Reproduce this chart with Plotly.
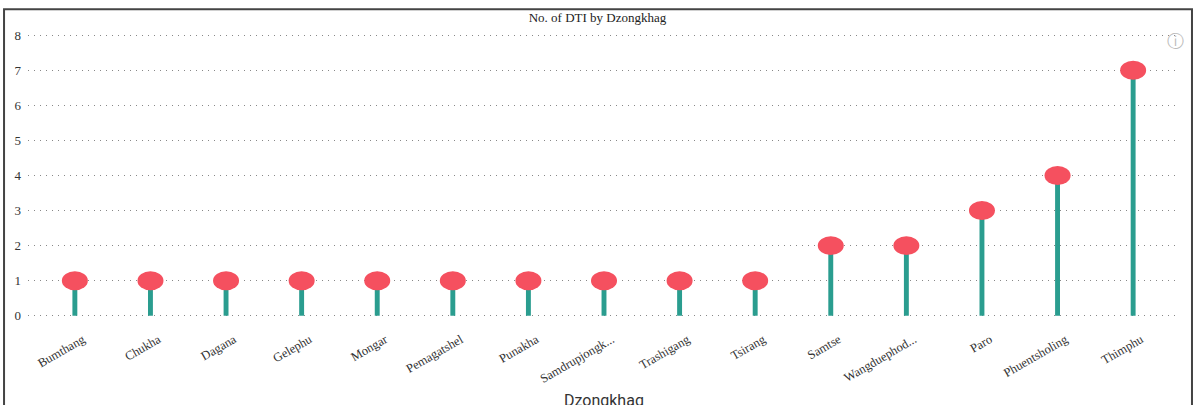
import plotly.graph_objects as go

dzongkhags = ["Bumthang", "Chukha", "Dagana", "Gelephu", "Mongar", "Pemagatshel",
              "Punakha", "Samdrupjongk...", "Trashigang", "Tsirang", "Samtse",
              "Wangduephod...", "Paro", "Phuentsholing", "Thimphu"]
dti_counts = [1, 1, 1, 1, 1, 1, 1, 1, 1, 1, 2, 2, 3, 4, 7]
x_title = "Dzongkhag"

STEM = "#2a9d8f"
HEAD = "#f5505f"
SERIF = "Liberation Serif, Times New Roman, serif"

fig = go.Figure()
fig.add_trace(go.Bar(
    x=list(range(len(dzongkhags))), y=dti_counts, width=0.065,
    marker=dict(color=STEM, line=dict(width=0)), hoverinfo="skip",
))

# ellipse heads derived from data values
hx = 0.172
hy = 0.27
for i, v in enumerate(dti_counts):
    fig.add_shape(type="circle", xref="x", yref="y",
                  x0=i - hx, x1=i + hx, y0=v - hy, y1=v + hy,
                  fillcolor=HEAD, line=dict(width=0), layer="above")

# outer frame
fig.add_shape(type="rect", xref="paper", yref="paper",
              x0=-0.0208, x1=1.0104, y0=-0.3, y1=1.0714,
              line=dict(color="#444", width=2), fillcolor="rgba(0,0,0,0)")

fig.add_annotation(text="ⓘ", xref="paper", yref="paper", x=0.996, y=0.965,
                   xanchor="center", yanchor="middle",
                   showarrow=False, font=dict(size=17, color="#bbbbbb"))

# x-axis title
fig.add_annotation(text=x_title, xref="paper", yref="paper", x=0.5, y=-0.272,
                   xanchor="center", yanchor="middle", showarrow=False,
                   font=dict(family="Roboto, Arial, sans-serif", size=16, color="#333"))

fig.update_layout(
    width=1195, height=405,
    margin=dict(l=28, r=15, t=30, b=84, autoexpand=False),
    paper_bgcolor="white", plot_bgcolor="white",
    showlegend=False,
    title=dict(text="No. of DTI by Dzongkhag", x=0.5, xanchor="center",
               xref="container", yref="container",
               y=0.958, yanchor="middle", automargin=False,
               font=dict(family=SERIF, size=13, color="#222")),
    xaxis=dict(
        tickmode="array", tickvals=list(range(len(dzongkhags))), ticktext=dzongkhags,
        range=[-0.62, 14.62], tickangle=-30, showgrid=False, zeroline=False,
        automargin=False, ticklabelstandoff=8, ticklabelshift=8,
        tickfont=dict(family=SERIF, size=12.5, color="#333"),
    ),
    yaxis=dict(
        range=[-0.15, 8.15], dtick=1, showgrid=True, gridcolor="#888",
        griddash="1px,5px", gridwidth=1, zeroline=False, automargin=False,
        tickfont=dict(family=SERIF, size=13, color="#333"), ticklabelstandoff=6,
    ),
)

fig.write_html("out.html", config={"displayModeBar": False},
               post_script="document.body.style.margin='0';")
